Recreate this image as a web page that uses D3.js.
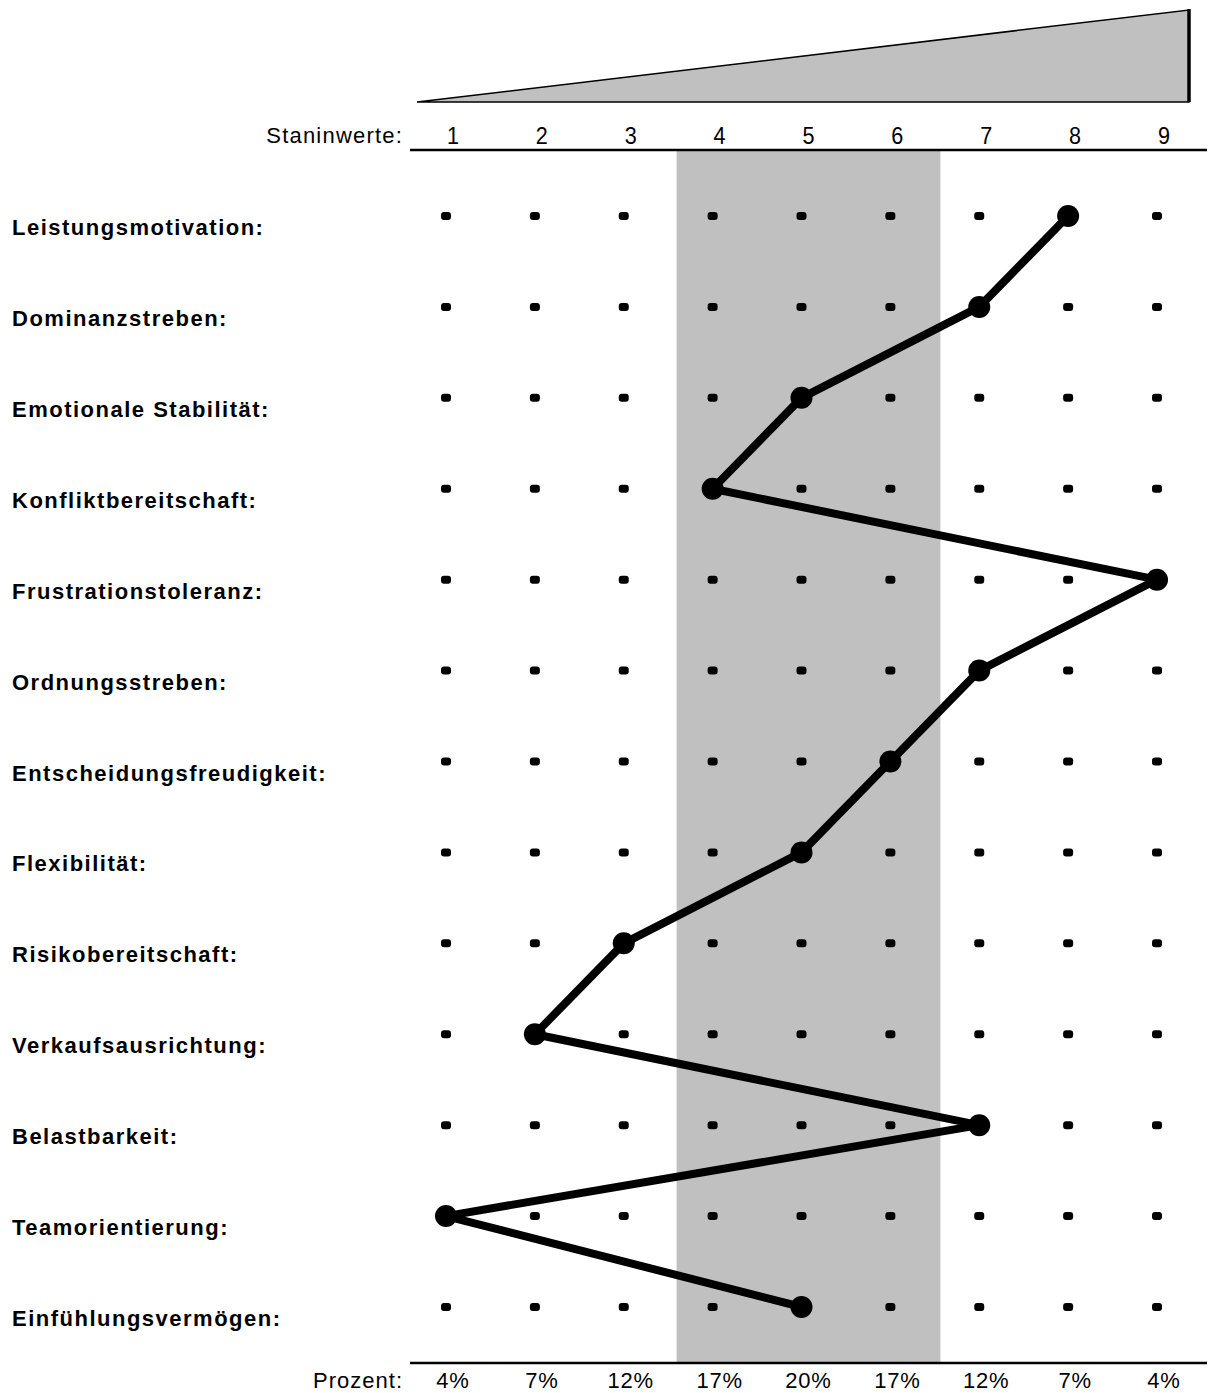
<!DOCTYPE html>
<html>
<head>
<meta charset="utf-8">
<script src="https://cdn.jsdelivr.net/npm/d3@7"></script>
<style>
  body { margin: 0; background: #fff; }
  text { font-family: "Liberation Sans", Arial, sans-serif; fill: #000; }
</style>
</head>
<body>
<div id="chart"></div>
<script>
const traits = ["Leistungsmotivation:", "Dominanzstreben:", "Emotionale Stabilität:",
  "Konfliktbereitschaft:", "Frustrationstoleranz:", "Ordnungsstreben:",
  "Entscheidungsfreudigkeit:", "Flexibilität:", "Risikobereitschaft:",
  "Verkaufsausrichtung:", "Belastbarkeit:", "Teamorientierung:", "Einfühlungsvermögen:"];
const stanine = [8, 7, 5, 4, 9, 7, 6, 5, 3, 2, 7, 1, 5];
const stanineTicks = [1, 2, 3, 4, 5, 6, 7, 8, 9];
const percentLabels = ["4%", "7%", "12%", "17%", "20%", "17%", "12%", "7%", "4%"];
const averageBand = [4, 6];

const width = 1208, height = 1393;

const svg = d3.select("#chart")
  .append("svg")
  .attr("width", width)
  .attr("height", height);

const x = d3.scaleLinear().domain([1, 9]).range([446, 1157]);
const y = d3.scalePoint().domain(traits).range([216, 1307]);

// grey band for average stanines 4-6
svg.append("rect")
  .attr("x", x(averageBand[0]) - 36)
  .attr("y", 151)
  .attr("width", x(averageBand[1]) - x(averageBand[0]) + 86)
  .attr("height", 1363 - 151)
  .attr("fill", "#c0c0c0");

// wedge on top
const wedge = d3.line()([[417, 102], [x(9) + 32, 10], [x(9) + 32, 102], [417, 102]]);
svg.append("path")
  .attr("d", wedge)
  .attr("fill", "#c0c0c0")
  .attr("stroke", "#000")
  .attr("stroke-width", 1.5);
svg.append("line")
  .attr("x1", x(9) + 32).attr("x2", x(9) + 32)
  .attr("y1", 9).attr("y2", 102)
  .attr("stroke", "#000")
  .attr("stroke-width", 3.5);

// header and footer rules
[150, 1363].forEach(yy => {
  svg.append("line")
    .attr("x1", 410).attr("x2", 1207)
    .attr("y1", yy).attr("y2", yy)
    .attr("stroke", "#000")
    .attr("stroke-width", 2.5);
});

svg.append("text")
  .attr("x", 403).attr("y", 143)
  .attr("text-anchor", "end")
  .attr("font-size", 22)
  .attr("letter-spacing", 1.2)
  .text("Staninwerte:");

svg.selectAll(".stick")
  .data(stanineTicks)
  .join("text")
  .attr("x", d => x(d) + 7)
  .attr("y", 144)
  .attr("text-anchor", "middle")
  .attr("font-size", 24)
  .attr("transform", d => `translate(${x(d) + 7},0) scale(0.9,1) translate(${-(x(d) + 7)},0)`)
  .text(d => d);

svg.append("text")
  .attr("x", 403).attr("y", 1388)
  .attr("text-anchor", "end")
  .attr("font-size", 22)
  .attr("letter-spacing", 1)
  .text("Prozent:");

svg.selectAll(".ptick")
  .data(percentLabels)
  .join("text")
  .attr("x", (d, i) => x(i + 1) + 7)
  .attr("y", 1388)
  .attr("text-anchor", "middle")
  .attr("font-size", 22)
  .attr("letter-spacing", 0.8)
  .text(d => d);

// trait labels
svg.selectAll(".trait")
  .data(traits)
  .join("text")
  .attr("x", 12)
  .attr("y", d => y(d) + 19)
  .attr("font-size", 22)
  .attr("font-weight", "bold")
  .attr("letter-spacing", 1.5)
  .text(d => d);

// small grid dots
const grid = traits.flatMap(t => stanineTicks.map(s => ({ t, s })));
svg.selectAll(".dot")
  .data(grid)
  .join("rect")
  .attr("x", d => x(d.s) - 5)
  .attr("y", d => y(d.t) - 4)
  .attr("width", 10)
  .attr("height", 8)
  .attr("rx", 3)
  .attr("fill", "#000");

// profile line
const profile = traits.map((t, i) => [x(stanine[i]), y(t)]);
svg.append("path")
  .attr("d", d3.line()(profile))
  .attr("fill", "none")
  .attr("stroke", "#000")
  .attr("stroke-width", 8)
  .attr("stroke-linejoin", "round");

svg.selectAll(".marker")
  .data(profile)
  .join("circle")
  .attr("cx", d => d[0])
  .attr("cy", d => d[1])
  .attr("r", 11)
  .attr("fill", "#000");
</script>
</body>
</html>
